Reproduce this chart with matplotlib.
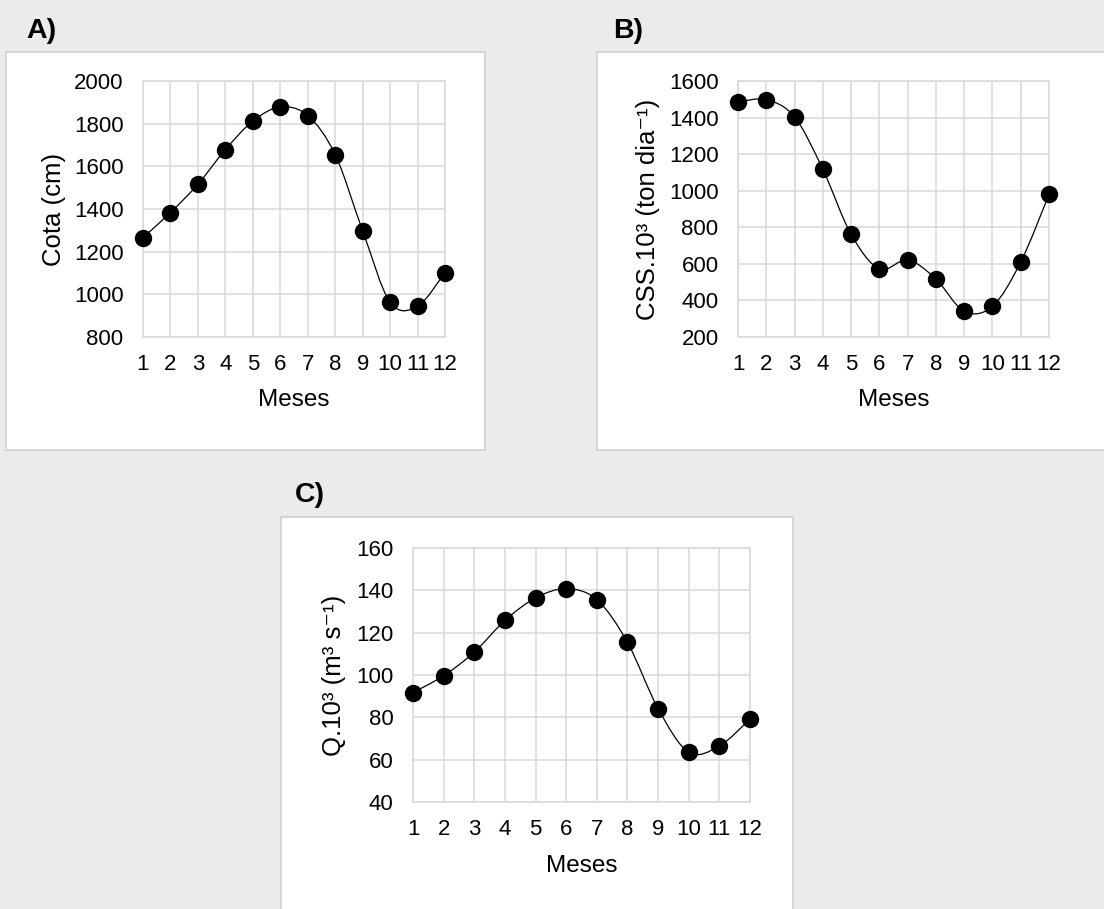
"""Cota, CSS e vazão mensais: três painéis estilo Excel."""

import matplotlib

matplotlib.use("Agg")
import matplotlib.pyplot as plt
import numpy as np
from matplotlib.patches import PathPatch, Rectangle
from matplotlib.path import Path

# %% Dados
meses = [1, 2, 3, 4, 5, 6, 7, 8, 9, 10, 11, 12]
cota = [1266, 1383, 1516, 1678, 1812, 1878, 1838, 1655, 1298, 963, 944, 1102]
css = [1485, 1498, 1403, 1117, 761, 572, 621, 517, 340, 368, 610, 980]
vazao = [91.7, 99.7, 110.8, 125.8, 136.4, 140.8, 135.6, 115.4, 84.1, 63.5, 66.5, 79.2]

plt.rcParams["font.family"] = ["Liberation Sans", "DejaVu Sans"]

grid_color = "#d9d9d9"
bg_color = "#ebebeb"


def smooth_path(x, y):
    """Curva suavizada estilo Excel (Bezier cúbica entre pontos)."""
    pts = np.column_stack([x, y]).astype(float)
    n = len(pts)
    verts = [pts[0]]
    codes = [Path.MOVETO]
    for i in range(n - 1):
        p0 = pts[i - 1] if i > 0 else pts[i]
        p1 = pts[i]
        p2 = pts[i + 1]
        p3 = pts[i + 2] if i + 2 < n else pts[i + 1]
        c1 = p1 + (p2 - p0) / 6
        c2 = p2 - (p3 - p1) / 6
        verts += [c1, c2, p2]
        codes += [Path.CURVE4] * 3
    return Path(verts, codes)


def panel(fig, rect, box, letter, letter_xy, values, ylim, yticks, ylabel, ylab_x, xlab_y):
    # caixa branca do gráfico
    fig.add_artist(
        Rectangle(
            (box[0], box[1]),
            box[2],
            box[3],
            transform=fig.transFigure,
            facecolor="white",
            edgecolor="#d0d0d0",
            linewidth=1.2,
            zorder=0,
        )
    )
    fig.text(
        letter_xy[0],
        letter_xy[1],
        letter,
        fontsize=20.5,
        fontweight="bold",
        ha="left",
        va="center",
    )

    ax = fig.add_axes(rect)
    ax.set_facecolor("white")
    ax.add_patch(
        PathPatch(
            smooth_path(meses, values),
            facecolor="none",
            edgecolor="black",
            linewidth=0.9,
            zorder=3,
        )
    )
    ax.plot(meses, values, "o", color="black", markersize=11.5, zorder=4, clip_on=False)

    ax.set_xlim(1, 12)
    ax.set_ylim(*ylim)
    ax.set_xticks(meses)
    ax.set_yticks(yticks)
    ax.grid(True, color=grid_color, linewidth=1.1)
    ax.set_axisbelow(True)
    for side in ["top", "right", "left", "bottom"]:
        ax.spines[side].set_color(grid_color)
        ax.spines[side].set_linewidth(1.1)
    ax.tick_params(axis="both", length=0, labelsize=16)
    ax.tick_params(axis="x", pad=12)
    ax.tick_params(axis="y", pad=14)

    ax.set_xlabel("Meses", fontsize=17.5)
    ax.set_ylabel(ylabel, fontsize=18.5)
    ax.xaxis.set_label_coords(0.5, xlab_y)
    ax.yaxis.set_label_coords(ylab_x, 0.5)
    return ax


fig = plt.figure(figsize=(11.04, 9.09), dpi=100)
fig.patch.set_facecolor(bg_color)

panel(
    fig,
    [0.1295, 0.6293, 0.2736, 0.2816],
    (0.0054, 0.505, 0.4339, 0.4378),
    "A)",
    (0.024, 0.966),
    cota,
    (800, 2000),
    np.arange(800, 2001, 200),
    "Cota (cm)",
    -0.255,
    -0.205,
)

panel(
    fig,
    [0.6685, 0.6293, 0.2817, 0.2816],
    (0.5408, 0.505, 0.47, 0.4378),
    "B)",
    (0.555, 0.966),
    css,
    (200, 1600),
    np.arange(200, 1601, 200),
    "CSS.10³ (ton dia⁻¹)",
    -0.25,
    -0.205,
)

panel(
    fig,
    [0.3741, 0.1177, 0.3053, 0.2794],
    (0.2545, -0.01, 0.4638, 0.4412),
    "C)",
    (0.267, 0.455),
    vazao,
    (40, 160),
    np.arange(40, 161, 20),
    "Q.10³ (m³ s⁻¹)",
    -0.2,
    -0.21,
)

fig.savefig("out.png", dpi=100, facecolor=fig.get_facecolor())
